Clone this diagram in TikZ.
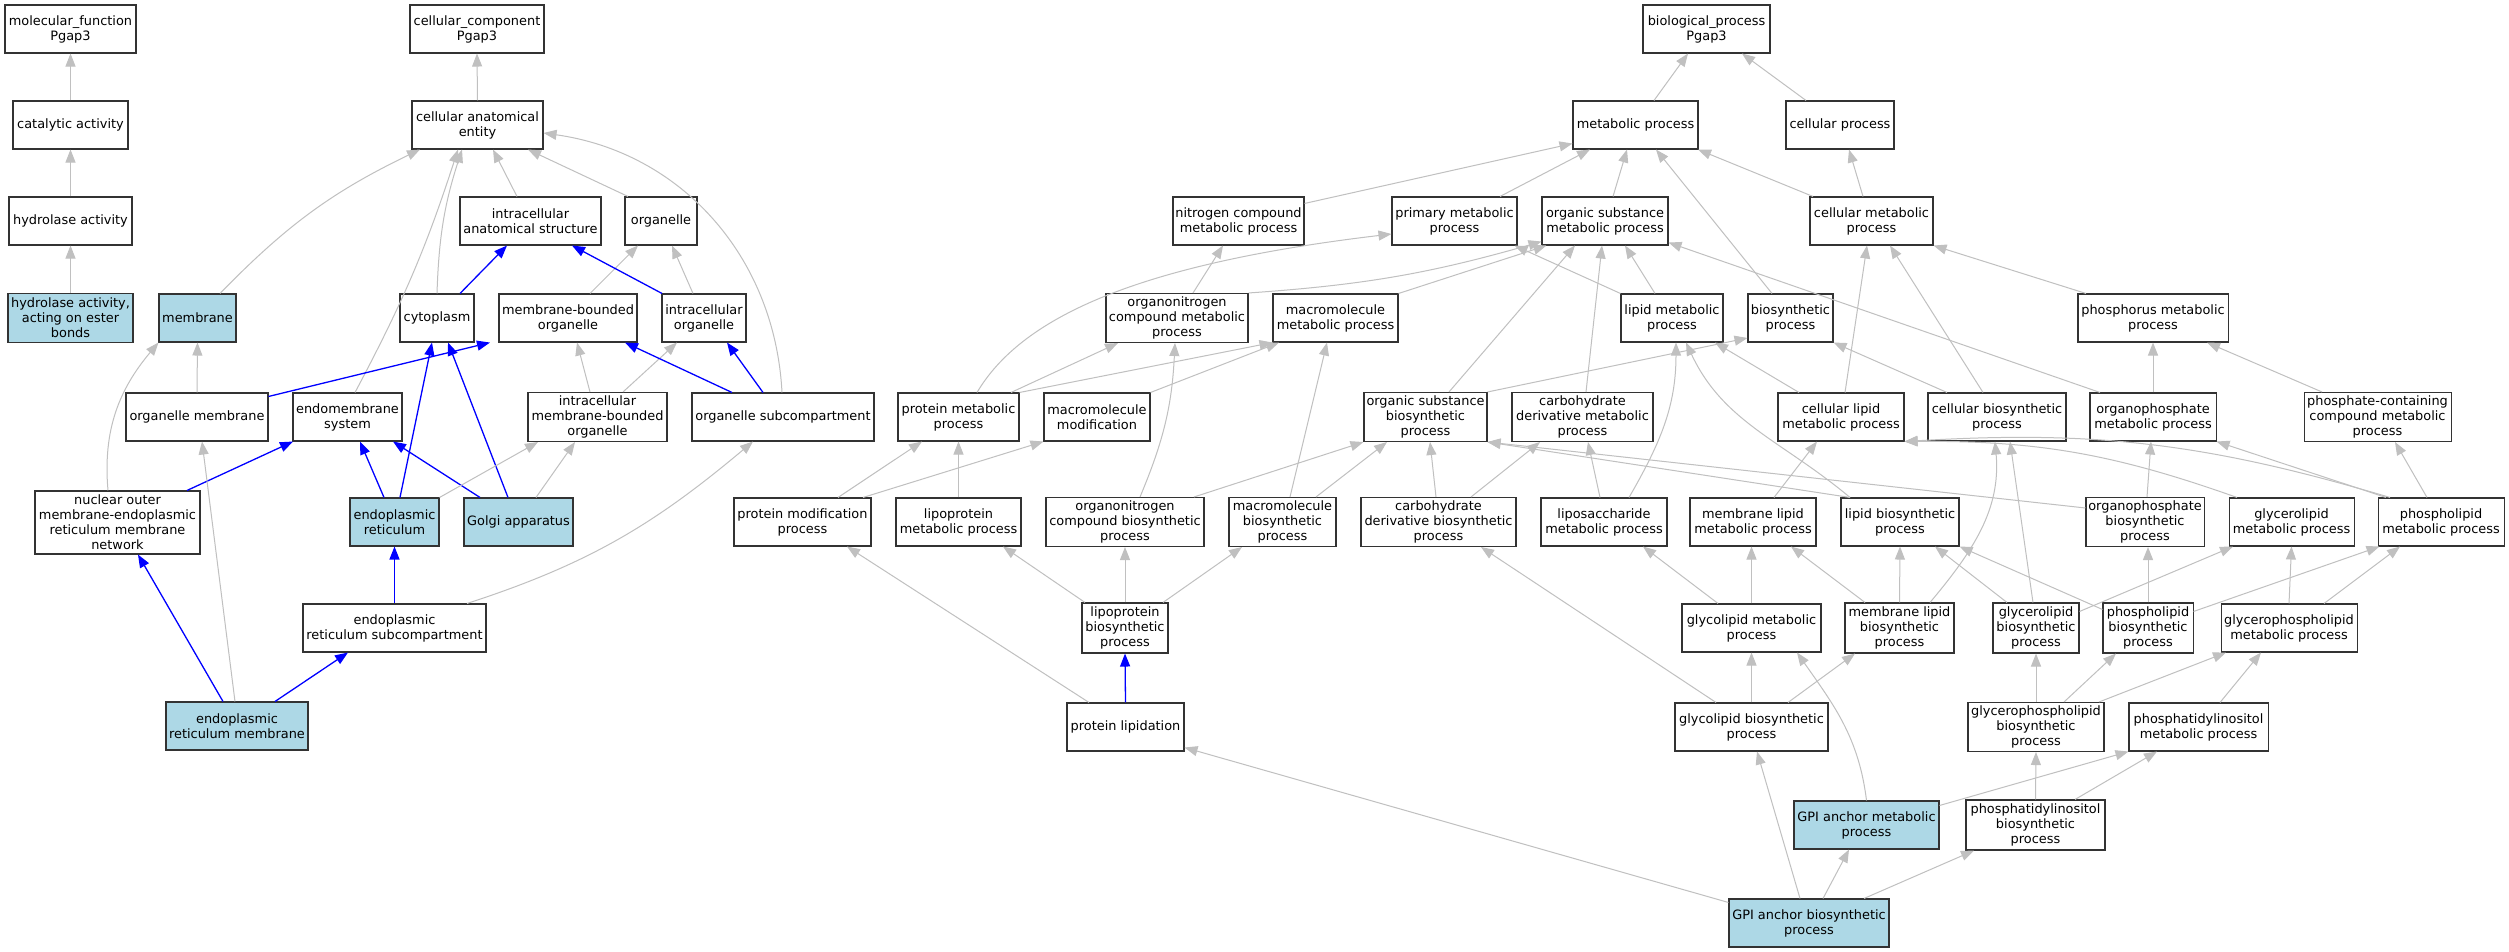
\documentclass[tikz,border=0pt]{standalone}
\usepackage{fontspec}
\setmainfont{DejaVu Sans}
\usetikzlibrary{arrows.meta}
\definecolor{gcol}{HTML}{C0C0C0}
\definecolor{lblue}{HTML}{ADD8E6}
\tikzset{
  box/.style={draw=black!80, line width=1.05pt, fill=white, rectangle, inner sep=0pt,
    align=center, font=\fontsize{12.9pt}{15pt}\selectfont},
  hl/.style={fill=lblue},
  ge/.style={draw=gcol, line width=1pt, -{Triangle[length=13pt,width=10pt]}},
  be/.style={draw=blue, line width=1.3pt, -{Triangle[length=13pt,width=10pt]}}
}
\newcommand{\grayedge}[4]{\draw[ge] ([xshift=#2pt]#1.north) -- ([xshift=#4pt]#3.south);}
\newcommand{\blueedge}[4]{\draw[be] ([xshift=#2pt]#1.north) -- ([xshift=#4pt]#3.south);}
\newcommand{\bx}[7][]{\node[box,#1,minimum width=#5pt,minimum height=#6pt] (#2) at (#3,-#4) {#7};}
\begin{document}
\begin{tikzpicture}[x=1pt,y=1pt]
\fill[white] (0,0) rectangle (2509,-952);
\useasboundingbox (0,0) rectangle (2509,-952);
% molecular function
\bx{mf}{70.5}{29}{131}{48}{molecular\_function\\Pgap3}
\bx{cat}{70.5}{125}{115}{48}{catalytic activity}
\bx{hyd}{70.5}{221}{123}{48}{hydrolase activity}
\bx[hl]{hydest}{70.5}{318}{125}{49}{hydrolase activity,\\acting on ester\\bonds}
% cellular component
\bx{cc}{477}{29}{134}{48}{cellular\_component\\Pgap3}
\bx{cae}{477.5}{125}{131}{48}{cellular anatomical\\entity}
\bx{ias}{530.5}{221}{141}{48}{intracellular\\anatomical structure}
\bx{org}{661}{221}{72}{48}{organelle}
\bx[hl]{mem}{197.5}{318}{77}{48}{membrane}
\bx{cyto}{437}{318}{74}{48}{cytoplasm}
\bx{mbo}{568}{318}{138}{48}{membrane-bounded\\organelle}
\bx{io}{704}{318}{84}{48}{intracellular\\organelle}
\bx{om}{197}{417}{142}{48}{organelle membrane}
\bx{ems}{347.5}{417}{109}{48}{endomembrane\\system}
\bx{imbo}{597.5}{417}{139}{49}{intracellular\\membrane-bounded\\organelle}
\bx{osc}{783}{417}{182}{48}{organelle subcompartment}
\bx{nuc}{117.5}{522.5}{165}{63}{nuclear outer\\membrane-endoplasmic\\reticulum membrane\\network}
\bx[hl]{er}{394.5}{522}{89}{48}{endoplasmic\\reticulum}
\bx[hl]{golgi}{518.5}{522}{109}{48}{Golgi apparatus}
\bx{ersc}{394.5}{628}{183}{48}{endoplasmic\\reticulum subcompartment}
\bx[hl]{erm}{237}{726}{142}{48}{endoplasmic\\reticulum membrane}
% biological process
\bx{bp}{1706.5}{29}{127}{48}{biological\_process\\Pgap3}
\bx{mp}{1635.5}{125}{125}{48}{metabolic process}
\bx{cp}{1840}{125}{108}{48}{cellular process}
\bx{ncm}{1238.5}{221}{131}{48}{nitrogen compound\\metabolic process}
\bx{prim}{1454.5}{221}{125}{48}{primary metabolic\\process}
\bx{osm}{1605}{221}{126}{48}{organic substance\\metabolic process}
\bx{cmp}{1871.5}{221}{123}{48}{cellular metabolic\\process}
\bx{oncm}{1177}{318}{142}{49}{organonitrogen\\compound metabolic\\process}
\bx{mmp}{1335.5}{318}{125}{48}{macromolecule\\metabolic process}
\bx{lm}{1672}{318}{102}{48}{lipid metabolic\\process}
\bx{bs}{1790.5}{318}{85}{48}{biosynthetic\\process}
\bx{phm}{2153}{318}{150}{48}{phosphorus metabolic\\process}
\bx{pmp}{958.5}{417}{121}{48}{protein metabolic\\process}
\bx{mmod}{1097}{417}{106}{48}{macromolecule\\modification}
\bx{osb}{1425.5}{417}{123}{49}{organic substance\\biosynthetic\\process}
\bx{cdm}{1582.5}{417}{141}{49}{carbohydrate\\derivative metabolic\\process}
\bx{clm}{1841}{417}{126}{48}{cellular lipid\\metabolic process}
\bx{cbp}{1997}{417}{138}{48}{cellular biosynthetic\\process}
\bx{opm}{2153}{417}{126}{48}{organophosphate\\metabolic process}
\bx{pcc}{2377.5}{417}{147}{49}{phosphate-containing\\compound metabolic\\process}
\bx{pmod}{802.5}{522}{137}{48}{protein modification\\process}
\bx{lpm}{958.5}{522}{125}{48}{lipoprotein\\metabolic process}
\bx{oncb}{1125}{522}{158}{49}{organonitrogen\\compound biosynthetic\\process}
\bx{mmb}{1282.5}{522}{107}{49}{macromolecule\\biosynthetic\\process}
\bx{cdb}{1438.5}{522}{155}{49}{carbohydrate\\derivative biosynthetic\\process}
\bx{lsm}{1604}{522}{126}{48}{liposaccharide\\metabolic process}
\bx{mlm}{1753}{522}{126}{48}{membrane lipid\\metabolic process}
\bx{lb}{1900}{522}{118}{48}{lipid biosynthetic\\process}
\bx{opb}{2145}{522}{118}{49}{organophosphate\\biosynthetic\\process}
\bx{glm}{2291.5}{522}{125}{48}{glycerolipid\\metabolic process}
\bx{plm}{2441}{522}{126}{48}{phospholipid\\metabolic process}
\bx{lpb}{1125}{628}{86}{50}{lipoprotein\\biosynthetic\\process}
\bx{glpm}{1751.5}{628}{139}{48}{glycolipid metabolic\\process}
\bx{mlb}{1899.5}{628}{109}{50}{membrane lipid\\biosynthetic\\process}
\bx{glb}{2036}{628}{86}{50}{glycerolipid\\biosynthetic\\process}
\bx{plb}{2148}{628}{90}{50}{phospholipid\\biosynthetic\\process}
\bx{gplm}{2289}{628}{136}{48}{glycerophospholipid\\metabolic process}
\bx{plip}{1125.5}{727}{117}{48}{protein lipidation}
\bx{glpb}{1751.5}{727}{153}{48}{glycolipid biosynthetic\\process}
\bx{gplb}{2036}{727}{136}{49}{glycerophospholipid\\biosynthetic\\process}
\bx{pim}{2198.5}{727}{139}{48}{phosphatidylinositol\\metabolic process}
\bx[hl]{gpim}{1866.5}{825}{145}{48}{GPI anchor metabolic\\process}
\bx{pib}{2035.5}{825}{139}{50}{phosphatidylinositol\\biosynthetic\\process}
\bx[hl]{gpib}{1809}{923}{160}{48}{GPI anchor biosynthetic\\process}
% ---------- edges: molecular function
\grayedge{cat}{0}{mf}{0}
\grayedge{hyd}{0}{cat}{0}
\grayedge{hydest}{0}{hyd}{0}
% ---------- edges: cellular component
\grayedge{cae}{0}{cc}{0}
\grayedge{ias}{-13.5}{cae}{15.5}
\grayedge{org}{-33}{cae}{50.5}
\draw[ge] ([xshift=22.5pt]mem.north) to[bend left=10] ([xshift=-57.5pt]cae.south);
\draw[ge] (cyto.north) to[bend left=8] ([xshift=-15.5pt]cae.south);
\draw[ge] ([xshift=7.5pt]ems.north) to[bend right=5] ([xshift=-19.5pt]cae.south);
\draw[ge] ([xshift=-1pt]osc.north) to[out=93,in=-8] ([yshift=-8pt]cae.east);
\blueedge{cyto}{23}{ias}{-23.5}
\grayedge{mbo}{22}{org}{-23}
\grayedge{io}{-11}{org}{11}
\blueedge{io}{-42}{ias}{41.5}
\grayedge{om}{0}{mem}{0}
\draw[be] ([yshift=-4pt]om.north east) -- ([xshift=-78pt]mbo.south);
\draw[ge] ([xshift=-9.5pt]nuc.north) to[out=95,in=230] (mem.south west);
\grayedge{imbo}{-7.5}{mbo}{9}
\grayedge{imbo}{25.5}{io}{-27}
\blueedge{osc}{-51}{mbo}{57}
\blueedge{osc}{-20}{io}{23}
\blueedge{er}{5.5}{cyto}{-5}
\blueedge{golgi}{-10.5}{cyto}{11}
\blueedge{nuc}{69.5}{ems}{-54.5}
\blueedge{er}{-10.5}{ems}{12.5}
\blueedge{golgi}{-38.5}{ems}{45.5}
\draw[ge] (er.north east) -- ([xshift=-59.5pt]imbo.south);
\grayedge{golgi}{17.5}{imbo}{-22.5}
\blueedge{ersc}{0}{er}{0}
\draw[ge] ([xshift=72.5pt]ersc.north) to[out=18,in=-140] ([xshift=-30pt]osc.south);
\blueedge{erm}{-14}{nuc}{20.5}
\grayedge{erm}{-2}{om}{5}
\blueedge{erm}{38}{ersc}{-46.5}
% ---------- edges: biological process
\grayedge{mp}{18.5}{bp}{-18.5}
\grayedge{cp}{-34}{bp}{35.5}
\draw[ge] ([yshift=-7pt]ncm.north east) -- ([yshift=6pt]mp.south west);
\grayedge{prim}{45.5}{mp}{-45.5}
\grayedge{osm}{8}{mp}{-8.5}
\grayedge{bs}{-18.5}{mp}{20.5}
\grayedge{cmp}{-58.5}{mp}{62.5}
\grayedge{cmp}{-8.5}{cp}{9}
\draw[ge] ([xshift=-67pt]phm.north) -- (cmp.south east);
\grayedge{oncm}{16}{ncm}{-15.5}
\draw[ge] (oncm.north east) to[bend right=6] ([yshift=4pt]osm.south west);
\draw[ge] (mmp.north east) -- ([xshift=5pt]osm.south west);
\draw[ge] (lm.north west) -- ([xshift=-3pt]prim.south east);
\grayedge{osb}{23.5}{osm}{-30}
\grayedge{cdm}{3.5}{osm}{-3}
\grayedge{lm}{-17}{osm}{20}
\draw[ge] ([xshift=-53pt]opm.north) -- ([yshift=3pt]osm.south east);
\grayedge{clm}{-42}{lm}{43}
\grayedge{clm}{4}{cmp}{-4.5}
\draw[ge] ([xshift=-50pt]cbp.north) -- (bs.south east);
\grayedge{cbp}{-14}{cmp}{18.5}
\draw[ge] (osb.north east) -- ([yshift=-20pt]bs.west);
\grayedge{opm}{0}{phm}{0}
\grayedge{pcc}{-55.5}{phm}{54}
% row 5 upwards
\draw[ge] ([xshift=18.5pt]pmp.north) .. controls (1020,-320) and (1130,-265) .. ([yshift=-13pt]prim.west);
\grayedge{pmp}{52.5}{oncm}{-59}
\draw[ge] (pmp.north east) -- (mmp.south west);
\draw[ge] (mmod.north east) -- ([xshift=-56.5pt]mmp.south);
\grayedge{pmod}{35.5}{pmp}{-36.5}
\draw[ge] ([xshift=60.5pt]pmod.north) -- (mmod.south west);
\grayedge{lpm}{0}{pmp}{0}
\draw[ge] ([xshift=15pt]oncb.north) to[bend right=10] ([xshift=-2pt]oncm.south);
\draw[ge] ([xshift=69pt]oncb.north) -- (osb.south west);
\grayedge{mmb}{7.5}{mmp}{-8.5}
\grayedge{mmb}{33.5}{osb}{-38.5}
\grayedge{cdb}{-2.5}{osb}{4.5}
\grayedge{cdb}{32.5}{cdm}{-42.5}
\grayedge{lsm}{-4}{cdm}{5.5}
\draw[ge] ([xshift=25pt]lsm.north) to[out=60,in=-90] ([xshift=4pt]lm.south);
\grayedge{mlm}{21}{clm}{-24}
\draw[ge] ([xshift=-50pt]lb.north) -- (osb.south east);
\draw[ge] ([xshift=-50pt]lb.north) to[out=140,in=-65] ([xshift=14pt]lm.south);
\draw[ge] ([yshift=14pt]opb.west) -- (osb.south east);
\grayedge{opb}{2}{opm}{-2}
\draw[ge] ([xshift=-54.5pt]glm.north) to[bend right=10] (clm.south east);
\draw[ge] ([xshift=-51pt]plm.north) to[bend right=10] (clm.south east);
\draw[ge] ([xshift=-55pt]plm.north) -- (opm.south east);
\grayedge{plm}{-14}{pcc}{17.5}
% row 7 upwards
\grayedge{lpb}{-40}{lpm}{44.5}
\grayedge{lpb}{0}{oncb}{0}
\grayedge{lpb}{38}{mmb}{-40.5}
\grayedge{glpm}{-33.5}{lsm}{39}
\grayedge{glpm}{0}{mlm}{-1.5}
\grayedge{mlb}{-34.5}{mlm}{38}
\grayedge{mlb}{0}{lb}{0}
\draw[ge] ([xshift=30.5pt]mlb.north) to[out=50,in=-85] ([xshift=-2pt]cbp.south);
\grayedge{glb}{-29}{lb}{35}
\grayedge{glb}{-3}{cbp}{13}
\draw[ge] ([yshift=-9pt]glb.north east) -- ([xshift=-58.5pt]glm.south);
\draw[ge] ([yshift=-7pt]plb.north west) -- (lb.south east);
\grayedge{plb}{0}{opb}{3}
\draw[ge] ([yshift=-9pt]plb.north east) -- ([xshift=2pt]plm.south west);
\grayedge{gplm}{0}{glm}{0}
\grayedge{gplm}{35}{plm}{-41}
% row 8 upwards
\blueedge{plip}{0}{lpb}{0}
\grayedge{plip}{-36.5}{pmod}{44.5}
\grayedge{glpb}{-35.5}{cdb}{42.5}
\grayedge{glpb}{0}{glpm}{0}
\grayedge{glpb}{36.5}{mlb}{-44.5}
\grayedge{gplb}{0}{glb}{0}
\grayedge{gplb}{28}{plb}{-32}
\grayedge{gplb}{63}{gplm}{-63}
\grayedge{pim}{21.5}{gplm}{-28}
% row 9 upwards
\draw[ge] (gpim.north) to[out=97,in=-55] ([xshift=45.5pt]glpm.south);
\draw[ge] ([yshift=-5pt]gpim.north east) -- (pim.south west);
\grayedge{pib}{0}{gplb}{0}
\grayedge{pib}{39.5}{pim}{-41.5}
% row 10 upwards
\draw[ge] ([yshift=-4pt]gpib.north west) -- ([yshift=4pt]plip.south east);
\grayedge{gpib}{-9}{glpb}{5.5}
\grayedge{gpib}{14}{gpim}{-17.5}
\grayedge{gpib}{55}{pib}{-61.5}
\end{tikzpicture}
\end{document}
